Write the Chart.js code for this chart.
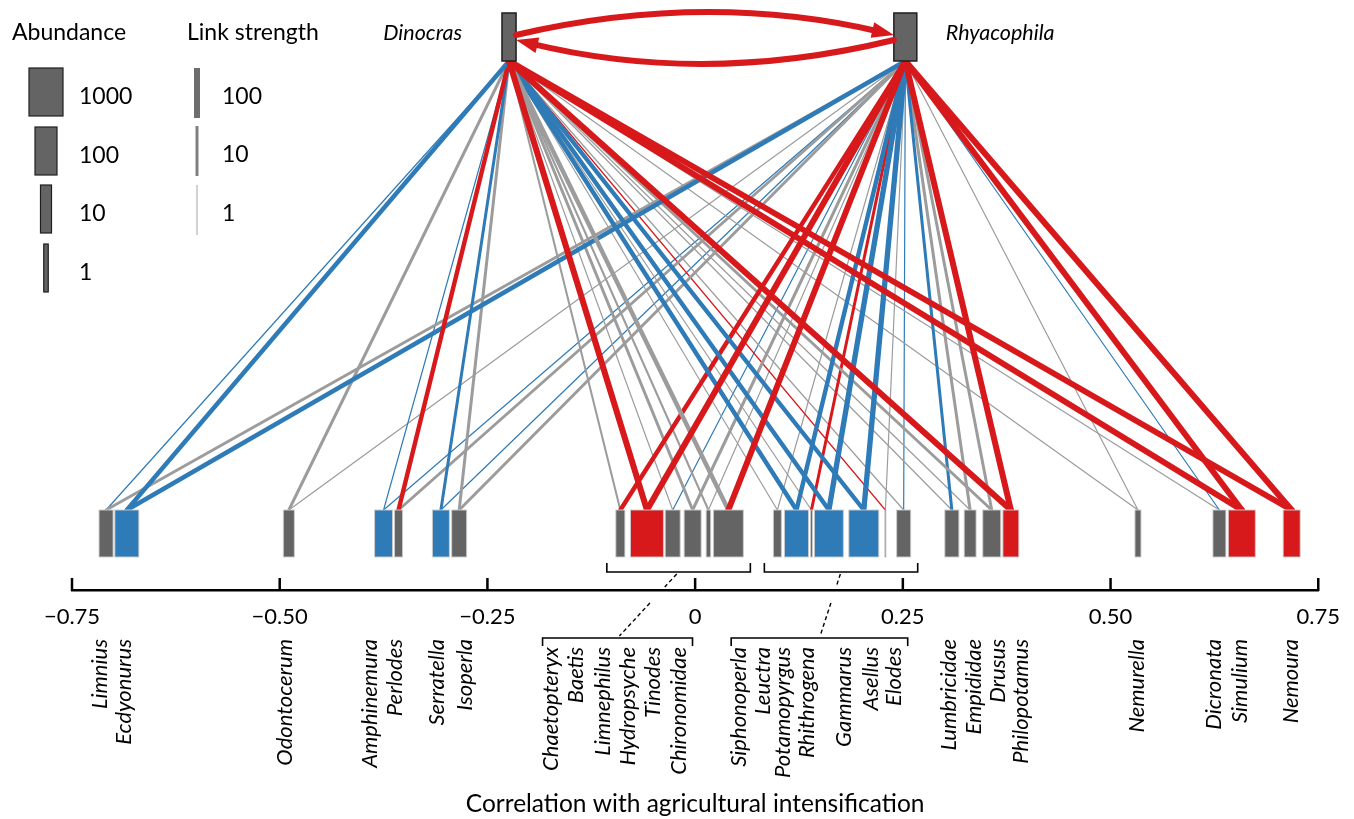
<!DOCTYPE html>
<html>
<head>
<meta charset="utf-8">
<script src="https://cdn.jsdelivr.net/npm/chart.js@4.4.1/dist/chart.umd.min.js"></script>
<style>
  html, body { margin: 0; background: #fff; }
  #wrap { width: 1354px; height: 819px; }
</style>
</head>
<body>
<div id="wrap"><canvas id="web" width="1354" height="819"></canvas></div>
<script>
// ---- values ----
const preyNames = ['Limnius', 'Ecdyonurus', 'Odontocerum', 'Amphinemura', 'Perlodes', 'Serratella', 'Isoperla',
  'Chaetopteryx', 'Baetis', 'Limnephilus', 'Hydropsyche', 'Tinodes', 'Chironomidae',
  'Siphonoperla', 'Leuctra', 'Potamopyrgus', 'Rhithrogena', 'Gammarus', 'Asellus', 'Elodes',
  'Lumbricidae', 'Empididae', 'Drusus', 'Philopotamus', 'Nemurella', 'Dicronata', 'Simulium', 'Nemoura'];
// correlation with agricultural intensification (centre of each box)
const preyCorr = [-0.709, -0.684, -0.489, -0.375, -0.357, -0.306, -0.284,
  -0.090, -0.058, -0.027, -0.003, 0.016, 0.040,
  0.099, 0.122, 0.140, 0.161, 0.203, 0.229, 0.251,
  0.309, 0.331, 0.357, 0.380, 0.533, 0.631, 0.658, 0.718];
const preyAbundance = [19, 147, 10, 43, 3.5, 35, 23,
  5, 820, 23, 35, 1, 460,
  3.5, 147, 0.4, 380, 460, 0.3, 19,
  19, 12, 43, 28, 1.7, 15, 260, 35];
// -1 = blue, 0 = grey, 1 = red
const preyTrend = [0, -1, 0, -1, 0, -1, 0,
  0, 1, 0, 0, 0, 0,
  0, -1, 0, -1, -1, 0, 0,
  0, 0, 0, 1, 0, 0, 1, 1];

const predNames = ['Dinocras', 'Rhyacophila'];
const predCorr = [-0.224, 0.253];
const predAbundance = [19, 120];

// link strength and colour from each predator to every prey (same order as preyNames)
const dinocrasStrength = [1, 30, 10, 1, 30, 10, 10,
  3, 100, 1, 10, 3, 30,
  1, 30, 1, 30, 30, 1, 1,
  1, 1, 10, 100, 1, 1, 100, 100];
const dinocrasTrend = [-1, -1, 0, -1, 1, -1, 0,
  0, 1, 0, 0, 0, 0,
  0, -1, 0, -1, -1, 1, 0,
  0, 0, 0, 1, 0, 0, 1, 1];
const rhyacophilaStrength = [10, 30, 1, 1, 10, 1, 10,
  30, 100, 1, 10, 1, 100,
  1, 30, 10, 60, 60, 1, 1,
  10, 10, 10, 100, 1, 1, 100, 100];
const rhyacophilaTrend = [0, -1, 0, -1, 0, -1, 0,
  1, 1, -1, 0, 0, 1,
  0, -1, 1, -1, -1, 0, -1,
  -1, 0, 0, 1, 0, -1, 1, 1];
// intraguild links: Dinocras -> Rhyacophila, Rhyacophila -> Dinocras
const igpStrength = [100, 100];

const tickValues = [-0.75, -0.5, -0.25, 0, 0.25, 0.5, 0.75];
const tickLabels = ['\u22120.75', '\u22120.50', '\u22120.25', '0', '0.25', '0.50', '0.75'];
const abundanceKey = [1000, 100, 10, 1];
const strengthKey = [100, 10, 1];

// ---- layout ----
// where each rotated name sits along the axis
const labelCorr = [-0.716, -0.688, -0.494, -0.392, -0.361, -0.311, -0.277,
  -0.174, -0.143, -0.111, -0.081, -0.051, -0.020,
  0.053, 0.082, 0.106, 0.134, 0.179, 0.211, 0.239,
  0.305, 0.335, 0.364, 0.392, 0.532, 0.624, 0.656, 0.717];
const bracketGroups = [[7, 12], [13, 19]];

const PREY_TOP = 80, PREY_BASE = 33;     // y units = px above the axis
const PRED_BASE = 529, PRED_TOP = 577;
const TREND_COL = { '-1': '#2e7bb8', '0': '#9c9c9c', '1': '#d7191c' };
const BOX_GREY = '#646464';
const FONT = 'Lato, "Open Sans", sans-serif';

// box width (px) from abundance, calibrated on the abundance key
const ABUND_W = [[0, 4.5], [1, 11], [2, 22], [3, 34]];
function boxWidth(a) {
  const l = Math.log10(a);
  const i = l < 1 ? 0 : (l < 2 ? 1 : 2);
  const [l0, w0] = ABUND_W[i], [l1, w1] = ABUND_W[i + 1];
  return Math.max(1, w0 + (w1 - w0) * (l - l0) / (l1 - l0));
}
// line width (px) from link strength, calibrated on the strength key
const STR_W = [[0, 1.2], [1, 3], [2, 6]];
function linkWidth(s) {
  const l = Math.log10(s);
  const i = l < 1 ? 0 : 1;
  const [l0, w0] = STR_W[i], [l1, w1] = STR_W[i + 1];
  return w0 + (w1 - w0) * (l - l0) / (l1 - l0);
}

// one line dataset per trophic link
const linkSets = [];
[[dinocrasStrength, dinocrasTrend], [rhyacophilaStrength, rhyacophilaTrend]].forEach(([str, trend], p) => {
  str.forEach((s, i) => {
    if (!s) return;
    linkSets.push({
      label: predNames[p] + ' \u2013 ' + preyNames[i],
      data: [{ x: predCorr[p], y: PRED_BASE }, { x: preyCorr[i], y: PREY_TOP }],
      showLine: true,
      borderColor: TREND_COL[trend[i]],
      borderWidth: linkWidth(s),
      borderCapStyle: 'round',
      pointRadius: 0,
      pointHoverRadius: 0,
      order: -s
    });
  });
});

function arrowCurve(ctx, x0, y0, cx, cy, x1, y1, w, col) {
  const ang = Math.atan2(y1 - cy, x1 - cx);
  const head = 22, half = 8;
  const ca = Math.cos(ang), sa = Math.sin(ang);
  ctx.save();
  ctx.strokeStyle = col; ctx.fillStyle = col; ctx.lineWidth = w; ctx.lineCap = 'round';
  ctx.beginPath();
  ctx.moveTo(x0, y0);
  ctx.quadraticCurveTo(cx, cy, x1 - head * 0.7 * ca, y1 - head * 0.7 * sa);
  ctx.stroke();
  ctx.beginPath();
  ctx.moveTo(x1, y1);
  ctx.lineTo(x1 - head * ca + half * sa, y1 - head * sa - half * ca);
  ctx.lineTo(x1 - head * ca - half * sa, y1 - head * sa + half * ca);
  ctx.closePath();
  ctx.fill();
  ctx.restore();
}

const webPlugin = {
  id: 'web',
  afterDatasetsDraw(chart) {
    const { ctx, scales: { x, y } } = chart;
    // prey boxes
    preyCorr.forEach((c, i) => {
      const w = boxWidth(preyAbundance[i]);
      const cx = x.getPixelForValue(c);
      const top = y.getPixelForValue(PREY_TOP), bot = y.getPixelForValue(PREY_BASE);
      ctx.fillStyle = preyTrend[i] === 0 ? BOX_GREY : TREND_COL[preyTrend[i]];
      ctx.fillRect(cx - w / 2, top, w, bot - top);
      ctx.strokeStyle = 'rgba(205,205,205,0.9)';
      ctx.lineWidth = 1;
      ctx.strokeRect(cx - w / 2, top, w, bot - top);
    });
    // predator boxes + names
    const edges = [];
    predCorr.forEach((c, p) => {
      const w = boxWidth(predAbundance[p]);
      const cx = x.getPixelForValue(c);
      const top = y.getPixelForValue(PRED_TOP), bot = y.getPixelForValue(PRED_BASE);
      ctx.fillStyle = BOX_GREY;
      ctx.fillRect(cx - w / 2, top, w, bot - top);
      ctx.strokeStyle = '#1e1e1e';
      ctx.lineWidth = 1.5;
      ctx.strokeRect(cx - w / 2, top, w, bot - top);
      edges.push({ l: cx - w / 2, r: cx + w / 2, mid: (top + bot) / 2 });
      ctx.fillStyle = '#000';
      ctx.font = 'italic 21.5px ' + FONT;
      ctx.textBaseline = 'middle';
      if (p === 0) { ctx.textAlign = 'right'; ctx.fillText(predNames[p], cx - w / 2 - 40, (top + bot) / 2 - 4); }
      else { ctx.textAlign = 'left'; ctx.fillText(predNames[p], cx + w / 2 + 29, (top + bot) / 2 - 4); }
    });
    // intraguild predation, curved arrows
    const d = edges[0], r = edges[1];
    const midX = (d.r + r.l) / 2;
    arrowCurve(ctx, d.r, d.mid - 2, midX, d.mid - 46, r.l, r.mid - 2, linkWidth(igpStrength[0]), TREND_COL['1']);
    arrowCurve(ctx, r.l, r.mid + 3, midX, r.mid + 49, d.r, d.mid + 3, linkWidth(igpStrength[1]), TREND_COL['1']);
  },
  afterDraw(chart) {
    const { ctx, chartArea, scales: { x } } = chart;
    const base = chartArea.bottom;
    ctx.save();
    // upward tick marks
    ctx.strokeStyle = '#000';
    ctx.lineWidth = 2.5;
    x.ticks.forEach(t => {
      const px = x.getPixelForValue(t.value);
      ctx.beginPath(); ctx.moveTo(px, base + 1); ctx.lineTo(px, base - 12); ctx.stroke();
    });
    // rotated species names
    const inGroup = i => bracketGroups.some(([a, b]) => i >= a && i <= b);
    ctx.fillStyle = '#000';
    ctx.font = 'italic 22px ' + FONT;
    ctx.textAlign = 'right';
    ctx.textBaseline = 'middle';
    preyNames.forEach((n, i) => {
      ctx.save();
      ctx.translate(x.getPixelForValue(labelCorr[i]), base + (inGroup(i) ? 57 : 49));
      ctx.rotate(-Math.PI / 2);
      ctx.fillText(n, 0, 0);
      ctx.restore();
    });
    // brackets linking tight box clusters to their names
    ctx.lineWidth = 1.6;
    bracketGroups.forEach(([a, b]) => {
      const l1 = x.getPixelForValue(preyCorr[a]) - boxWidth(preyAbundance[a]) / 2 - 9;
      const r1 = x.getPixelForValue(preyCorr[b]) + boxWidth(preyAbundance[b]) / 2 + 7;
      const yU = base - 18;
      ctx.setLineDash([]);
      ctx.beginPath();
      ctx.moveTo(l1, yU - 9); ctx.lineTo(l1, yU); ctx.lineTo(r1, yU); ctx.lineTo(r1, yU - 9);
      ctx.stroke();
      const l2 = x.getPixelForValue(labelCorr[a]) - 8;
      const r2 = x.getPixelForValue(labelCorr[b]) + 14;
      const yL = base + 48;
      ctx.beginPath();
      ctx.moveTo(l2, yL + 8); ctx.lineTo(l2, yL); ctx.lineTo(r2, yL); ctx.lineTo(r2, yL + 8);
      ctx.stroke();
      // dashed connector, broken across the axis and tick labels
      const xa = (l1 + r1) / 2, xb = (l2 + r2) / 2;
      const at = yy => xa + (xb - xa) * (yy - yU) / (yL - yU);
      ctx.setLineDash([4, 3]);
      ctx.lineWidth = 1.4;
      ctx.beginPath();
      ctx.moveTo(at(yU + 2), yU + 2); ctx.lineTo(at(base - 3), base - 3);
      ctx.moveTo(at(base + 13), base + 13); ctx.lineTo(at(yL - 2), yL - 2);
      ctx.stroke();
      ctx.lineWidth = 1.6;
    });
    ctx.setLineDash([]);

    // keys, top left
    ctx.textAlign = 'left';
    ctx.textBaseline = 'middle';
    ctx.font = '23px ' + FONT;
    ctx.fillText('Abundance', 12, 33);
    ctx.fillText('Link strength', 187, 33);
    const keyTops = [68, 127, 185, 244];
    abundanceKey.forEach((a, k) => {
      const w = boxWidth(a);
      ctx.fillStyle = BOX_GREY;
      ctx.fillRect(46 - w / 2, keyTops[k], w, 48);
      ctx.strokeStyle = '#1e1e1e';
      ctx.lineWidth = 1.2;
      ctx.strokeRect(46 - w / 2, keyTops[k], w, 48);
      ctx.fillStyle = '#000';
      ctx.fillText(String(a), 79, keyTops[k] + 29);
    });
    const keyGreys = ['#6d6d6d', '#808080', '#b4b4b4'];
    const lineTops = [68, 126, 185];
    strengthKey.forEach((s, k) => {
      ctx.strokeStyle = keyGreys[k];
      ctx.lineWidth = linkWidth(s);
      ctx.beginPath(); ctx.moveTo(197, lineTops[k]); ctx.lineTo(197, lineTops[k] + 50); ctx.stroke();
      ctx.fillStyle = '#000';
      ctx.fillText(String(s), 222, lineTops[k] + 29);
    });
    ctx.restore();
  }
};

Chart.defaults.font.family = FONT;
Chart.defaults.color = '#000';

new Chart(document.getElementById('web'), {
  type: 'scatter',
  data: { datasets: linkSets },
  options: {
    responsive: false,
    animation: false,
    devicePixelRatio: 1,
    events: [],
    layout: { padding: { left: 72, right: 33, top: 13, bottom: 0 } },
    plugins: { legend: { display: false }, tooltip: { enabled: false } },
    scales: {
      x: {
        type: 'linear',
        min: -0.75,
        max: 0.75,
        afterBuildTicks: s => { s.ticks = tickValues.map(v => ({ value: v })); },
        afterFit: s => { s.height = 229; },
        ticks: {
          autoSkip: false,
          maxRotation: 0,
          padding: 14,
          font: { size: 22 },
          color: '#000',
          callback: (v, i) => tickLabels[i]
        },
        grid: { drawOnChartArea: false, drawTicks: false },
        border: { display: true, color: '#000', width: 2.5 },
        title: {
          display: true,
          text: 'Correlation with agricultural intensification',
          font: { size: 24.5 },
          color: '#000',
          padding: { top: 0, bottom: 0 }
        }
      },
      y: { type: 'linear', min: 0, max: 577, display: false }
    }
  },
  plugins: [webPlugin]
});
</script>
</body>
</html>
